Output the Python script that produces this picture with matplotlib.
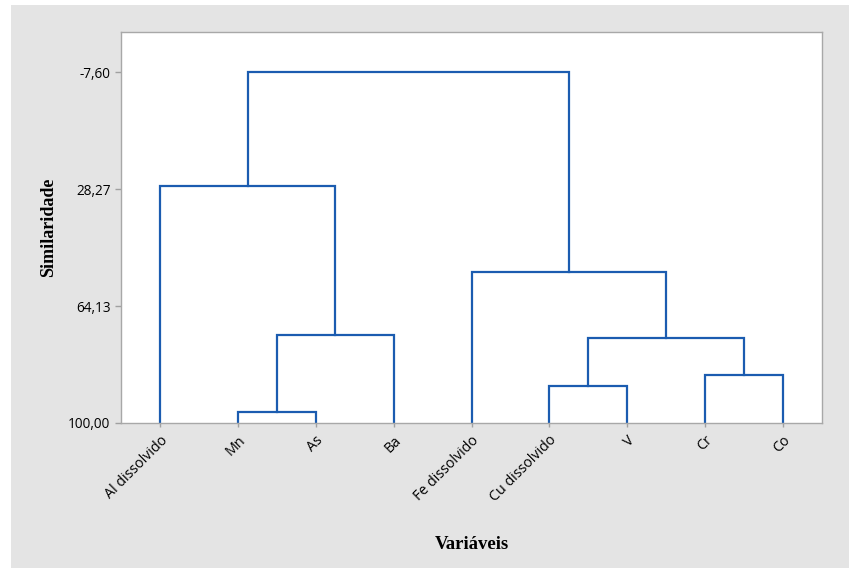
import matplotlib.pyplot as plt
from matplotlib.patches import Rectangle

# variables, in leaf order
variaveis = ["Al dissolvido", "Mn", "As", "Ba", "Fe dissolvido",
             "Cu dissolvido", "V", "Cr", "Co"]

# merges: (left node, right node, similarity); new nodes numbered from 9
merges = [
    (1, 2, 96.5),    # Mn + As
    (5, 6, 88.6),    # Cu + V
    (7, 8, 85.3),    # Cr + Co
    (10, 11, 73.9),  # (Cu,V) + (Cr,Co)
    (9, 3, 73.0),    # (Mn,As) + Ba
    (4, 12, 53.6),   # Fe + ...
    (0, 13, 27.3),   # Al + ...
    (15, 14, -7.60),
]

yticks = [-7.60, 28.27, 64.13, 100.00]

line_color = "#1b5cb0"
W, H = 849, 568

fig = plt.figure(figsize=(W / 100, H / 100), dpi=100, facecolor="white")
fig.add_artist(Rectangle((11 / W, 0), 1, (H - 5) / H, transform=fig.transFigure,
                         facecolor="#e4e4e4", edgecolor="none", zorder=-10))

ax = fig.add_axes([121 / W, (H - 423) / H, 701 / W, (423 - 32) / H])
ax.set_facecolor("white")

# x position and height of every node
xs = {i: i + 1 for i in range(len(variaveis))}
hs = {i: 100.0 for i in range(len(variaveis))}
for k, (a, b, s) in enumerate(merges):
    node = len(variaveis) + k
    ax.plot([xs[a], xs[a], xs[b], xs[b]], [hs[a], s, s, hs[b]],
            color=line_color, lw=1.6, solid_joinstyle="miter")
    xs[node] = (xs[a] + xs[b]) / 2
    hs[node] = s

ax.set_xlim(0.5, len(variaveis) + 0.5)
ax.set_ylim(100, -19.9)

ax.set_yticks(yticks)
ax.set_yticklabels([f"{v:.2f}".replace(".", ",") for v in yticks],
                   fontfamily="Open Sans", fontsize=9.8)
ax.set_xticks(range(1, len(variaveis) + 1))
ax.set_xticklabels(variaveis, rotation=45, ha="right", rotation_mode="anchor",
                   fontfamily="Open Sans", fontsize=10.3)
ax.tick_params(axis="both", colors="#a0a0a0", labelcolor="black", length=4, width=1)
ax.tick_params(axis="x", length=3, pad=4)

for sp in ax.spines.values():
    sp.set_color("#a8a8a8")
    sp.set_linewidth(1)

ax.set_ylabel("Similaridade", fontfamily="Liberation Serif", fontweight="bold",
              fontsize=13, labelpad=8)
ax.set_xlabel("Variáveis", fontfamily="Liberation Serif", fontweight="bold",
              fontsize=13.5, labelpad=22)

fig.savefig("out.png", dpi=100, facecolor=fig.get_facecolor())
